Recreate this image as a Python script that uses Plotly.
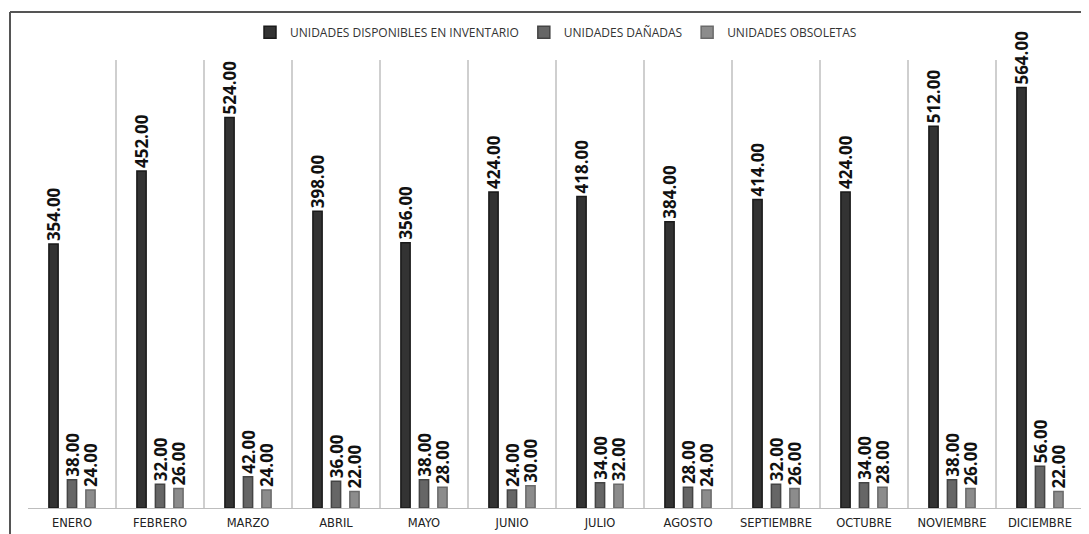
import plotly.graph_objects as go

months = ["ENERO", "FEBRERO", "MARZO", "ABRIL", "MAYO", "JUNIO", "JULIO",
          "AGOSTO", "SEPTIEMBRE", "OCTUBRE", "NOVIEMBRE", "DICIEMBRE"]
disponibles = [354, 452, 524, 398, 356, 424, 418, 384, 414, 424, 512, 564]
danadas = [38, 32, 42, 36, 38, 24, 34, 28, 32, 34, 38, 56]
obsoletas = [24, 26, 24, 22, 28, 30, 32, 24, 26, 28, 26, 22]

series = [
    ("UNIDADES DISPONIBLES EN INVENTARIO", disponibles, "#333333", "#1a1a1a"),
    ("UNIDADES DAÑADAS", danadas, "#666666", "#444444"),
    ("UNIDADES OBSOLETAS", obsoletas, "#8c8c8c", "#6a6a6a"),
]

fig = go.Figure()
for name, vals, col, edge in series:
    fig.add_trace(go.Bar(
        x=months, y=vals, name=name,
        marker=dict(color=col, line=dict(color=edge, width=1.5)),
        text=[f"{v:.2f}" for v in vals],
        textposition="outside", textangle=-90,
        constraintext="none", cliponaxis=False,
        textfont=dict(family="Open Sans", size=17, color="#111111", weight="bold"),
    ))

# page body has an 8px margin, so offsets are reduced by 8px
fig.update_layout(
    width=1089, height=534,
    margin=dict(l=20, r=13, t=52, b=34, autoexpand=False),
    paper_bgcolor="white", plot_bgcolor="white",
    barmode="group", bargap=0.37, bargroupgap=0.5,
    showlegend=True,
    legend=dict(orientation="h", x=0.5, xanchor="center", y=1.062, yanchor="middle",
                bgcolor="rgba(0,0,0,0)",
                font=dict(family="Open Sans", size=12, color="#333333"),
                itemwidth=30, traceorder="normal"),
    xaxis=dict(type="category", tickson="boundaries", showgrid=True,
               gridcolor="#cfcfcf", gridwidth=1.5, ticks="",
               ticklabelstandoff=4,
               showline=True, linecolor="#bdbdbd", linewidth=1.2,
               tickfont=dict(family="DejaVu Sans", size=11.5, color="#222222")),
    yaxis=dict(range=[0, 601], visible=False, showgrid=False, zeroline=False),
    shapes=[
        dict(type="line", xref="paper", yref="paper",
             x0=(10 - 28) / 1056, x1=(1095 - 28) / 1056,
             y0=1 + (60 - 12) / 448, y1=1 + (60 - 12) / 448,
             line=dict(color="#555555", width=2)),
        dict(type="line", xref="paper", yref="paper",
             x0=(10 - 28) / 1056, x1=(10 - 28) / 1056,
             y0=1 + (60 - 12) / 448, y1=-34 / 448,
             line=dict(color="#555555", width=2)),
    ],
)

fig.write_html("out.html")
